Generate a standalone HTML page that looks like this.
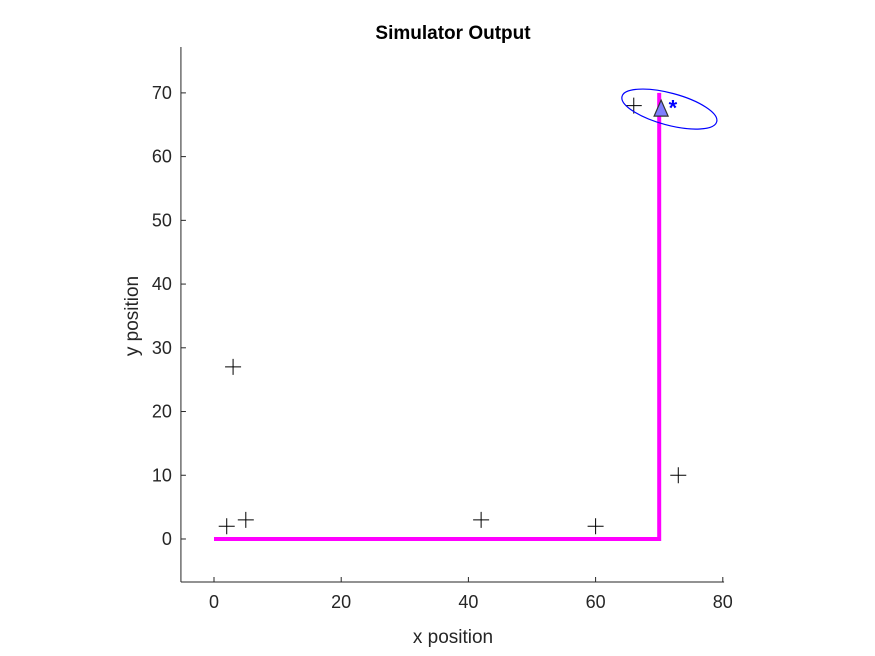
<!DOCTYPE html>
<html><head><meta charset="utf-8"><style>body{margin:0;background:#fff}svg{display:block;font-family:"Liberation Sans",Arial,sans-serif}</style></head>
<body>
<svg id="c" width="875" height="656">
<rect width="875" height="656" fill="#fff"/>
<text x="453" y="39" text-anchor="middle" font-size="19" font-weight="bold" fill="#000">Simulator Output</text>
<text x="453" y="643" text-anchor="middle" font-size="19" fill="#262626">x position</text>
<text transform="translate(138,316) rotate(-90)" text-anchor="middle" font-size="19" fill="#262626">y position</text>
<g id="g"></g>
</svg>
<script>
const xTicks=[0,20,40,60,80];
const yTicks=[0,10,20,30,40,50,60,70];
const landmarkX=[2,5,42,60,73,3,66];
const landmarkY=[2,3,3,2,10,27,68];
const pathX=[0,70,70];
const pathY=[0,0,70];
const robotX=[70.3];
const robotY=[67.3];
const estX=[72];
const estY=[68];
const T=47,B=582,y0=-6.75,y1=77.2;
const sx=v=>214+v*6.36;
const L=sx(-5.2),R=sx(80.2);
const sy=v=>B-(v-y0)/(y1-y0)*(B-T);
const g=document.getElementById('g');const NS='http://www.w3.org/2000/svg';
function mk(t,a){const e=document.createElementNS(NS,t);for(const k in a)e.setAttribute(k,a[k]);g.appendChild(e);return e;}
let e=mk('line',{x1:L,y1:B,x2:R,y2:B,stroke:'#262626'});


e=mk('line',{x1:L,y1:T,x2:L,y2:B,stroke:'#262626'});


xTicks.forEach(v=>{mk('line',{x1:sx(v),y1:B,x2:sx(v),y2:B-5,stroke:'#262626'});
const t=mk('text',{x:sx(v),y:B+26,'text-anchor':'middle','font-size':18,fill:'#262626'});t.textContent=v;

});
yTicks.forEach(v=>{mk('line',{x1:L,y1:sy(v),x2:L+5,y2:sy(v),stroke:'#262626'});
const t=mk('text',{x:L-9,y:sy(v)+6,'text-anchor':'end','font-size':18,fill:'#262626'});t.textContent=v;

});
e=mk('polyline',{points:pathX.map((v,i)=>sx(v)+','+sy(pathY[i])).join(' '),fill:'none',stroke:'#ff00ff','stroke-width':4});


landmarkX.forEach((v,i)=>{const x=sx(v),y=sy(landmarkY[i]);
const p=mk('path',{d:`M${x-8},${y}H${x+8}M${x},${y-8}V${y+8}`,stroke:'#000','stroke-width':1});

});
const cx=sx(robotX[0]),cy=sy(robotY[0]);
const ex=sx(robotX[0]+1.3),ey=cy-1;
e=mk('ellipse',{cx:ex,cy:ey,rx:49,ry:16,fill:'none',stroke:'#0000ff','stroke-width':1.2,transform:`rotate(15 ${ex} ${ey})`});


e=mk('polygon',{points:`${cx},${cy-10} ${cx-7},${cy+6} ${cx+7},${cy+6}`,fill:'#7f7fff',stroke:'#333','stroke-width':1.2});


e=mk('text',{x:sx(estX[0])+1,y:sy(estY[0])+10,'text-anchor':'middle','font-size':22,'font-weight':'bold',fill:'#0000ff'});e.textContent='*';


</script>
</body></html>
